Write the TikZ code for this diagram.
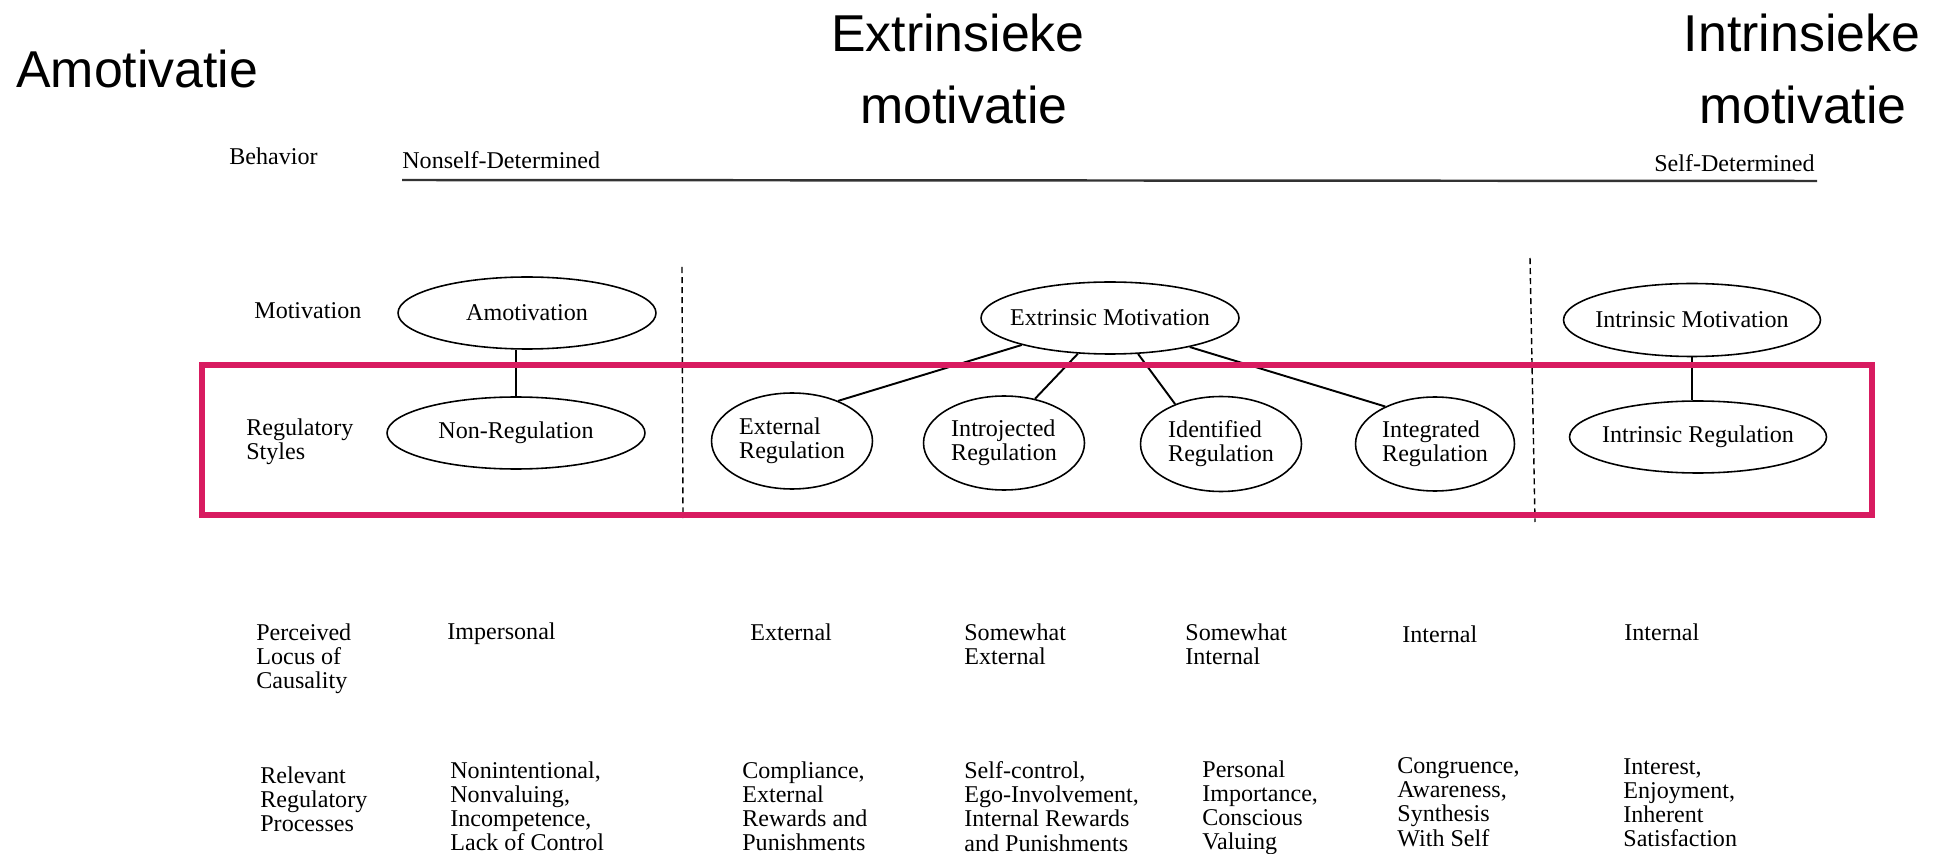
\documentclass[tikz,border=0pt]{standalone}
\usepackage{fontspec}
\setmainfont{Liberation Serif}
\newfontfamily\dutchfont{Liberation Sans}
\usetikzlibrary{shapes.geometric}
\definecolor{redbox}{HTML}{D81B60}
\begin{document}
\begin{tikzpicture}[x=0.02cm,y=-0.02cm,
  ell/.style={draw, ellipse, line width=0.9pt, inner sep=0pt},
  big/.style={minimum width=5.16cm, minimum height=1.44cm},
  txt/.style={font=\fontsize{13.7}{13.8}\selectfont, inner sep=0pt, align=left},
  dutch/.style={font=\dutchfont\fontsize{29.5}{32}\selectfont, inner sep=0pt},
  conn/.style={line width=1.1pt},
  sepline/.style={line width=0.8pt, dash pattern=on 3.5pt off 2.2pt}]
\fill[white] (0,0) rectangle (1939,854);
\path[use as bounding box] (0,0) rectangle (1939,854);

% Dutch headings
\node[dutch, anchor=base west] (nlA) at (16,88) {Amotivatie};
\node[dutch, anchor=base] (nlE1) at (958,52) {Extrinsieke};
\node[dutch, anchor=base] (nlE2) at (964,124) {motivatie};
\node[dutch, anchor=base] (nlI1) at (1802,52) {Intrinsieke};
\node[dutch, anchor=base] (nlI2) at (1803,124) {motivatie};

% Behavior row
\node[txt, anchor=base west] (beh) at (229,165) {Behavior};
\node[txt, anchor=base west] (nsd) at (402,169) {Nonself-Determined};
\node[txt, anchor=base east] (sd) at (1815,172) {Self-Determined};
\coordinate (bl) at (402,180);
\coordinate (br) at (1817,181);
\draw[line width=1.4pt, black!80] (bl) -- (br);

% Row labels
\node[txt, anchor=north west] (mot) at (254,302) {Motivation};
\node[txt, anchor=north west] (reg) at (246,418) {Regulatory\\Styles};
\node[txt, anchor=north west] (plc) at (256,623) {Perceived\\Locus of\\Causality};
\node[txt, anchor=north west] (rrp) at (260,766) {Relevant\\Regulatory\\Processes};

% Ellipses
\node[ell, big] (am) at (527,313) {};
\node[txt] (amT) at (am) {Amotivation};
\node[ell, big] (nr) at (516,433) {};
\node[txt] (nrT) at (nr) {Non-Regulation};
\node[ell, big] (em) at (1110,318) {};
\node[txt] (emT) at (em) {Extrinsic Motivation};
\node[ell, minimum width=5.14cm, minimum height=1.46cm] (im) at (1692,320) {};
\node[txt] (imT) at (im) {Intrinsic Motivation};
\node[ell, minimum width=5.14cm, minimum height=1.44cm] (ir) at (1698,437) {};
\node[txt] (irT) at (ir) {Intrinsic Regulation};

\node[ell, minimum width=3.22cm, minimum height=1.92cm] (exr) at (792,441) {};
\node[txt] (exrT) at (exr) {External\\Regulation};
\node[ell, minimum width=3.22cm, minimum height=1.88cm] (inr) at (1004,443) {};
\node[txt] (inrT) at (inr) {Introjected\\Regulation};
\node[ell, minimum width=3.22cm, minimum height=1.90cm] (idr) at (1221,444) {};
\node[txt] (idrT) at (idr) {Identified\\Regulation};
\node[ell, minimum width=3.18cm, minimum height=1.88cm] (igr) at (1435,444) {};
\node[txt] (igrT) at (igr) {Integrated\\Regulation};

% Connectors
\draw[line width=0.9pt] (nr.north) -- (nr.north |- am.south);
\draw[line width=0.9pt] (im.south) -- (im.south |- ir.north);
\draw[conn] (em.197) -- (exr.41);
\draw[conn] (em.228) -- (inr.55);
\draw[conn] (em.308) -- (idr.139);
\draw[conn] (em.340) -- (igr.143);

% Dashed separators
\coordinate (d1t) at (682,267);
\coordinate (d1b) at (683,518);
\coordinate (d2t) at (1530,258);
\coordinate (d2b) at (1535,522);
\draw[sepline] (d1t) -- (d1b);
\draw[sepline] (d2t) -- (d2b);

% Perceived locus row
\node[txt, anchor=north west] (p1) at (447,622) {Impersonal};
\node[txt, anchor=north west] (p2) at (750,623) {External};
\node[txt, anchor=north west] (p3) at (964,623) {Somewhat\\External};
\node[txt, anchor=north west] (p4) at (1185,623) {Somewhat\\Internal};
\node[txt, anchor=north west] (p5) at (1402,625) {Internal};
\node[txt, anchor=north west] (p6) at (1624,623) {Internal};

% Regulatory processes row
\node[txt, anchor=north west] (r1) at (450,761) {Nonintentional,\\Nonvaluing,\\Incompetence,\\Lack of Control};
\node[txt, anchor=north west] (r2) at (742,761) {Compliance,\\External\\Rewards and\\Punishments};
\node[txt, anchor=north west] (r3) at (964,761) {Self-control,\\Ego-Involvement,\\Internal Rewards\\and Punishments};
\node[txt, anchor=north west] (r4) at (1202,760) {Personal\\Importance,\\Conscious\\Valuing};
\node[txt, anchor=north west] (r5) at (1397,757) {Congruence,\\Awareness,\\Synthesis\\With Self};
\node[txt, anchor=north west] (r6) at (1623,758) {Interest,\\Enjoyment,\\Inherent\\Satisfaction};

% Highlight box
\draw[redbox, line width=3.4pt] (202,365) rectangle (1872,515);
\end{tikzpicture}
\end{document}
